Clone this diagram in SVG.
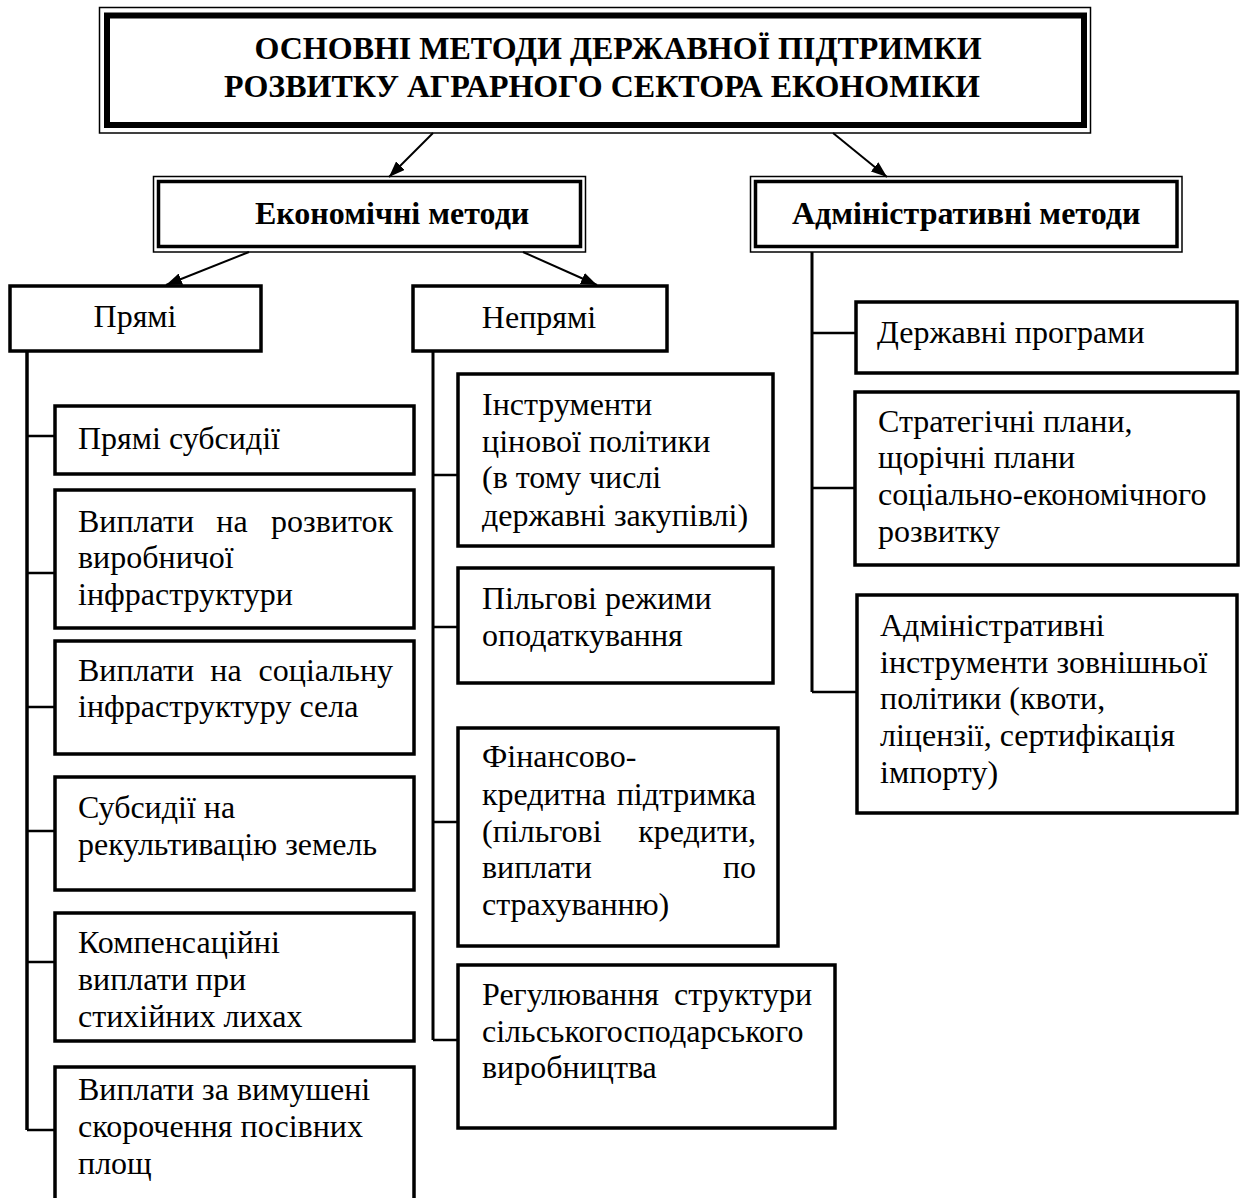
<svg xmlns="http://www.w3.org/2000/svg" width="1246" height="1198" viewBox="0 0 1246 1198">
<defs>
<marker id="ah" viewBox="0 0 16 12" refX="16" refY="6" markerWidth="16" markerHeight="12" orient="auto" markerUnits="userSpaceOnUse"><path d="M0,0 L16,6 L0,12 z" fill="#000"/></marker>
<style>
.t{font-family:"Liberation Serif","Times New Roman",serif;font-size:32px;fill:#000}
.b{font-family:"Liberation Serif","Times New Roman",serif;font-weight:bold;fill:#000}
.box{fill:#fff;stroke:#000;stroke-width:3.5}
.thin{fill:none;stroke:#000;stroke-width:1.5}
.thick{fill:none;stroke:#000;stroke-width:3.5}
.line{fill:none;stroke:#000;stroke-width:3}
.tick{fill:none;stroke:#000;stroke-width:2.5}
.arr{fill:none;stroke:#000;stroke-width:2;marker-end:url(#ah)}
</style>
</defs>
<rect width="1246" height="1198" fill="#fff"/>
<g id="connectors">
<line class="arr" x1="433" y1="133" x2="389" y2="177"/>
<line class="arr" x1="833" y1="133" x2="887" y2="177"/>
<line class="arr" x1="249" y1="252" x2="166" y2="285"/>
<line class="arr" x1="523" y1="252" x2="597" y2="285"/>
<line class="line" x1="27" y1="351" x2="27" y2="1130" style="stroke-width:3.5"/>
<path class="tick" d="M27,436H55M27,573H55M27,707H55M27,831H55M27,962H55M27,1130H55"/>
<line class="line" x1="433" y1="351" x2="433" y2="1040"/>
<path class="tick" d="M433,475H458M433,627H458M433,822H458M433,1040H458"/>
<line class="line" x1="812" y1="252" x2="812" y2="692"/>
<path class="tick" d="M812,333H856M812,488H855M812,692H857"/>
</g>
<g id="title">
<rect class="thin" x="99.5" y="7.5" width="991" height="125.5"/>
<rect x="107" y="15.5" width="977" height="109.5" fill="none" stroke="#000" stroke-width="6"/>
<text class="b" font-size="32" x="618" y="59" text-anchor="middle">ОСНОВНІ МЕТОДИ ДЕРЖАВНОЇ ПІДТРИМКИ</text>
<text class="b" font-size="32" x="602" y="97" text-anchor="middle">РОЗВИТКУ АГРАРНОГО СЕКТОРА ЕКОНОМІКИ</text>
</g>
<g id="economic">
<rect class="thin" x="153.5" y="176.5" width="432" height="75.5" fill="#fff"/>
<rect class="thick" x="158.5" y="181.5" width="422" height="65"/>
<text class="b" font-size="32" x="255" y="224">Економічні методи</text>
</g>
<g id="administrative">
<rect class="thin" x="750.5" y="176.5" width="431.5" height="75.5" fill="#fff"/>
<rect class="thick" x="755.5" y="181.5" width="421.5" height="65"/>
<text class="b" font-size="32" x="792" y="224">Адміністративні методи</text>
</g>
<g id="direct">
<rect class="box" x="10" y="286" width="251" height="65"/>
<text class="t" x="135" y="327" text-anchor="middle">Прямі</text>
</g>
<g id="indirect">
<rect class="box" x="413" y="286" width="254" height="65"/>
<text class="t" x="539" y="328" text-anchor="middle">Непрямі</text>
</g>
<g id="d1">
<rect class="box" x="55" y="406" width="359" height="68"/>
<text class="t" x="78" y="449">Прямі субсидії</text>
</g>
<g id="d2">
<rect class="box" x="55" y="490" width="359" height="138"/>
<text class="t" x="78" y="532">Виплати</text>
<text class="t" x="232" y="532" text-anchor="middle">на</text>
<text class="t" x="393" y="532" text-anchor="end">розвиток</text>
<text class="t" x="78" y="568">виробничої</text>
<text class="t" x="78" y="605">інфраструктури</text>
</g>
<g id="d3">
<rect class="box" x="55" y="641" width="359" height="113"/>
<text class="t" x="78" y="681">Виплати</text>
<text class="t" x="226" y="681" text-anchor="middle">на</text>
<text class="t" x="393" y="681" text-anchor="end">соціальну</text>
<text class="t" x="78" y="717">інфраструктуру села</text>
</g>
<g id="d4">
<rect class="box" x="55" y="777" width="359" height="113"/>
<text class="t" x="78" y="818">Субсидії на</text>
<text class="t" x="78" y="855">рекультивацію земель</text>
</g>
<g id="d5">
<rect class="box" x="55" y="913" width="359" height="128"/>
<text class="t" x="78" y="953">Компенсаційні</text>
<text class="t" x="78" y="990">виплати при</text>
<text class="t" x="78" y="1027">стихійних лихах</text>
</g>
<g id="d6">
<rect class="box" x="55" y="1067" width="359" height="140"/>
<text class="t" x="78" y="1100">Виплати за вимушені</text>
<text class="t" x="78" y="1137">скорочення посівних</text>
<text class="t" x="78" y="1174">площ</text>
</g>
<g id="i1">
<rect class="box" x="458" y="374" width="315" height="172"/>
<text class="t" x="482" y="415">Інструменти</text>
<text class="t" x="482" y="452">цінової політики</text>
<text class="t" x="482" y="488">(в тому числі</text>
<text class="t" x="482" y="526">державні закупівлі)</text>
</g>
<g id="i2">
<rect class="box" x="458" y="568" width="315" height="115"/>
<text class="t" x="482" y="609">Пільгові режими</text>
<text class="t" x="482" y="646">оподаткування</text>
</g>
<g id="i3">
<rect class="box" x="458" y="728" width="320" height="218"/>
<text class="t" x="482" y="767">Фінансово-</text>
<text class="t" x="482" y="805">кредитна</text>
<text class="t" x="756" y="805" text-anchor="end">підтримка</text>
<text class="t" x="482" y="842">(пільгові</text>
<text class="t" x="756" y="842" text-anchor="end">кредити,</text>
<text class="t" x="482" y="878">виплати</text>
<text class="t" x="756" y="878" text-anchor="end">по</text>
<text class="t" x="482" y="915">страхуванню)</text>
</g>
<g id="i4">
<rect class="box" x="458" y="965" width="377" height="163"/>
<text class="t" x="482" y="1005">Регулювання</text>
<text class="t" x="812" y="1005" text-anchor="end">структури</text>
<text class="t" x="482" y="1042">сільськогосподарського</text>
<text class="t" x="482" y="1078">виробництва</text>
</g>
<g id="a1">
<rect class="box" x="856" y="302" width="381" height="71"/>
<text class="t" x="877" y="343">Державні програми</text>
</g>
<g id="a2">
<rect class="box" x="855" y="392" width="383" height="173"/>
<text class="t" x="878" y="432">Стратегічні плани,</text>
<text class="t" x="878" y="468">щорічні плани</text>
<text class="t" x="878" y="505">соціально-економічного</text>
<text class="t" x="878" y="542">розвитку</text>
</g>
<g id="a3">
<rect class="box" x="857" y="595" width="380" height="218"/>
<text class="t" x="880" y="636">Адміністративні</text>
<text class="t" x="880" y="673">інструменти зовнішньої</text>
<text class="t" x="880" y="709">політики (квоти,</text>
<text class="t" x="880" y="746">ліцензії, сертифікація</text>
<text class="t" x="880" y="783">імпорту)</text>
</g>
</svg>
